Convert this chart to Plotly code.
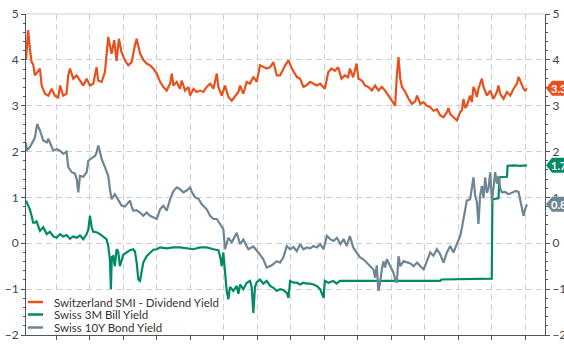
import plotly.graph_objects as go

# ---------------- data ----------------
smi_dates = ["2009-02-08","2009-03-03","2009-03-22","2009-04-10","2009-04-27","2009-05-16","2009-06-22","2009-07-10","2009-07-29","2009-09-03","2009-10-09","2009-11-14","2009-12-20",
"2010-01-25","2010-02-14","2010-03-20","2010-04-26","2010-05-14","2010-06-02","2010-07-08","2010-08-14","2010-09-19","2010-10-25","2010-12-01",
"2011-01-06","2011-02-11","2011-03-19","2011-04-06","2011-05-13","2011-06-18","2011-07-24","2011-08-30","2011-09-27","2011-10-23","2011-11-17","2011-12-16",
"2012-01-22","2012-02-27","2012-04-04","2012-05-10","2012-05-29","2012-07-04","2012-08-09","2012-09-15","2012-10-21","2012-11-26",
"2013-01-03","2013-02-08","2013-03-15","2013-04-21","2013-05-28","2013-06-16","2013-07-03","2013-08-08","2013-09-13","2013-10-02","2013-11-07","2013-12-13",
"2014-01-01","2014-02-06","2014-03-14","2014-04-19","2014-05-26","2014-07-01","2014-08-07","2014-09-12","2014-10-19","2014-11-05","2014-12-12",
"2015-01-17","2015-02-22","2015-03-31","2015-05-06","2015-06-11","2015-06-30","2015-08-04","2015-09-10","2015-10-16","2015-11-21","2015-12-28",
"2016-02-02","2016-03-09","2016-04-15","2016-05-22","2016-06-27","2016-08-03","2016-09-08","2016-11-02","2016-12-08",
"2017-01-14","2017-03-08","2017-04-14","2017-05-20","2017-06-26","2017-08-01","2017-09-06","2017-10-13","2017-11-18",
"2018-01-08","2018-02-14","2018-03-22","2018-04-27","2018-06-02","2018-07-09","2018-08-13","2018-09-19","2018-10-08","2018-11-13","2018-12-20",
"2019-01-09","2019-02-15","2019-03-23","2019-04-28","2019-06-04","2019-07-10","2019-08-15","2019-09-21","2019-10-27","2019-12-02",
"2020-01-26","2020-02-13","2020-03-03","2020-03-21","2020-04-09","2020-04-27","2020-06-03","2020-07-09","2020-08-15","2020-09-20","2020-10-09","2020-11-14","2020-12-20",
"2021-01-24","2021-03-01","2021-04-06","2021-05-13","2021-06-18","2021-07-24","2021-08-30","2021-09-16","2021-10-05","2021-11-10","2021-12-17",
"2022-01-22","2022-02-10","2022-02-27","2022-03-17","2022-04-04","2022-05-10","2022-05-29","2022-06-16","2022-07-04","2022-07-23","2022-08-09","2022-09-15","2022-10-03","2022-11-09","2022-12-15",
"2023-01-20","2023-02-26","2023-03-15","2023-04-03","2023-05-09","2023-06-16","2023-07-21","2023-08-27","2023-10-02","2023-10-20","2023-11-07","2023-12-13",
"2024-01-01","2024-01-19"]
smi_vals = [4.0,4.65,4.25,3.95,3.9,3.66,3.76,3.81,3.44,3.26,3.22,3.37,3.22,
3.18,3.44,3.22,3.26,3.66,3.81,3.59,3.66,3.55,3.44,3.59,
3.44,3.48,3.84,3.55,3.52,3.73,4.5,4.13,4.43,3.98,4.46,4.17,
3.99,3.88,3.95,4.32,4.46,4.14,4.0,3.92,3.88,3.81,
3.7,3.52,3.41,3.33,3.48,3.70,3.44,3.52,3.37,3.55,3.33,3.41,
3.22,3.37,3.30,3.33,3.30,3.41,3.48,3.37,3.70,3.41,3.22,
3.44,3.19,3.11,3.22,3.30,3.44,3.26,3.52,3.48,3.63,3.52,
3.88,3.84,3.81,3.84,3.95,3.66,3.66,3.88,3.99,
3.81,3.63,3.59,3.41,3.45,3.52,3.48,3.44,3.48,
3.37,3.73,3.81,3.76,3.84,3.59,3.66,3.62,3.81,3.62,3.92,
3.59,3.55,3.44,3.41,3.33,3.44,3.33,3.41,3.33,3.22,
3.08,3.0,3.66,4.06,3.59,3.41,3.30,3.15,3.04,3.10,3.22,3.04,3.08,
3.0,2.97,2.89,2.92,2.79,2.75,2.86,2.95,2.82,2.75,2.68,
2.86,2.90,3.15,2.95,3.0,3.22,3.08,3.41,3.33,3.19,3.37,3.59,3.41,3.22,3.33,
3.15,3.30,3.44,3.26,3.15,3.30,3.22,3.37,3.48,3.63,3.55,3.37,
3.33,3.38]

bill_dates = ["2009-02-08","2009-03-03","2009-03-22","2009-04-10","2009-04-27","2009-05-16","2009-06-03","2009-07-10","2009-08-15","2009-09-22","2009-10-27","2009-12-02",
"2010-01-08","2010-02-14","2010-03-20","2010-04-26","2010-06-02","2010-07-08","2010-08-14","2010-09-19","2010-10-25","2010-12-01","2010-12-19",
"2011-01-06","2011-01-25","2011-02-11","2011-03-19","2011-04-24","2011-05-30","2011-07-05","2011-07-24","2011-08-11","2011-08-22","2011-09-01","2011-09-17","2011-10-04","2011-10-23","2011-11-10","2011-11-28",
"2012-01-04","2012-02-10","2012-03-17","2012-04-22","2012-05-10","2012-05-29","2012-06-16","2012-07-04","2012-07-23","2012-08-09","2012-09-15","2012-10-21","2012-11-26",
"2013-01-03","2013-02-08","2013-04-21","2013-07-03","2013-09-13","2013-11-24",
"2014-02-06","2014-04-19","2014-07-01","2014-09-12","2014-11-05","2014-11-23","2014-12-12","2014-12-29",
"2015-01-17","2015-02-04","2015-02-22","2015-03-12","2015-04-17","2015-05-24","2015-06-11","2015-06-30","2015-08-04","2015-09-10","2015-10-16","2015-11-03","2015-11-21","2015-12-09","2015-12-28",
"2016-02-02","2016-03-09","2016-04-15","2016-05-22","2016-06-27","2016-08-03","2016-09-08","2016-10-14","2016-11-20","2016-12-08","2016-12-26",
"2017-02-01","2017-03-08","2017-04-14","2017-05-20","2017-06-26","2017-08-01","2017-09-06","2017-10-13","2017-11-18","2017-12-07","2017-12-25",
"2018-01-08","2018-02-14","2018-04-10","2018-05-16","2018-06-22","2018-09-04",
"2019-01-01","2020-01-01","2021-01-01","2021-06-18","2021-07-01","2022-01-01","2022-06-01","2023-01-01",
"2023-01-08","2023-02-26","2023-03-15","2023-03-26","2023-05-09","2023-06-16","2023-06-22","2023-08-27","2023-11-07","2024-01-19"]
bill_vals = [0.93,0.82,0.74,0.60,0.45,0.45,0.48,0.27,0.35,0.20,0.25,0.15,
0.12,0.20,0.15,0.18,0.10,0.15,0.12,0.17,0.09,0.20,0.30,
0.60,0.35,0.25,0.24,0.20,0.15,0.09,-0.06,-0.35,-1.0,-0.30,-0.28,-0.50,-0.13,-0.18,-0.50,
-0.25,-0.20,-0.15,-0.13,-0.18,-0.42,-0.79,-0.82,-0.64,-0.42,-0.28,-0.20,-0.14,
-0.13,-0.09,-0.11,-0.09,-0.09,-0.11,
-0.13,-0.09,-0.09,-0.13,-0.15,-0.28,-0.50,-0.20,
-0.60,-1.04,-1.22,-0.95,-1.04,-0.93,-1.10,-0.90,-1.0,-0.86,-0.82,-0.95,-1.52,-0.95,-0.85,
-0.79,-0.88,-0.82,-0.93,-0.97,-1.04,-1.0,-1.02,-1.08,-1.19,-0.82,
-0.86,-0.86,-0.90,-0.86,-0.88,-0.88,-0.90,-0.93,-1.0,-1.11,-1.19,
-0.82,-0.86,-0.82,-0.88,-0.82,-0.82,
-0.82,-0.83,-0.82,-0.82,-0.79,-0.78,-0.77,-0.77,
0.96,0.98,0.98,1.44,1.44,1.45,1.69,1.70,1.69,1.70]

bond_dates = ["2009-02-08","2009-02-15","2009-03-22","2009-04-27","2009-05-16","2009-06-09","2009-07-10","2009-08-15","2009-09-22","2009-10-09","2009-10-27","2009-12-02",
"2010-01-08","2010-02-14","2010-03-20","2010-04-26","2010-05-14","2010-06-20","2010-07-26","2010-08-14","2010-09-01","2010-09-19","2010-10-25","2010-12-01","2010-12-19",
"2011-01-25","2011-03-03","2011-03-19","2011-04-06","2011-04-24","2011-05-13","2011-06-18","2011-07-24","2011-08-11","2011-08-30","2011-10-04","2011-11-10","2011-12-16",
"2012-01-22","2012-02-27","2012-03-17","2012-04-04","2012-04-22","2012-05-29","2012-07-04","2012-08-09","2012-09-15","2012-10-21","2012-11-26",
"2013-01-03","2013-02-08","2013-03-15","2013-04-21","2013-05-28","2013-07-03","2013-08-08","2013-09-13","2013-10-20","2013-11-24",
"2014-01-01","2014-01-19","2014-02-25","2014-04-02","2014-05-08","2014-07-01","2014-08-07","2014-09-12","2014-10-19","2014-11-23","2014-12-29",
"2015-01-17","2015-02-04","2015-02-22","2015-03-31","2015-05-24","2015-06-30","2015-08-04","2015-09-28","2015-11-21",
"2016-01-14","2016-03-09","2016-04-15","2016-06-09","2016-08-03","2016-09-08","2016-10-14","2016-11-20","2016-12-26",
"2017-02-01","2017-03-08","2017-04-14","2017-05-20","2017-06-26","2017-08-01","2017-09-06","2017-10-13","2017-11-18","2017-12-25",
"2018-01-30","2018-03-08","2018-04-14","2018-05-20","2018-06-27","2018-08-01","2018-09-04","2018-10-08","2018-11-13","2018-12-20",
"2019-01-27","2019-03-04","2019-04-10","2019-05-16","2019-06-22","2019-07-10","2019-07-28","2019-08-15","2019-09-03","2019-09-21","2019-10-09","2019-10-27","2019-11-15","2019-12-21",
"2020-01-26","2020-02-13","2020-03-03","2020-03-21","2020-04-09","2020-05-15","2020-06-20","2020-07-27","2020-09-01","2020-10-09","2020-11-14","2020-12-20",
"2021-01-24","2021-03-01","2021-04-06","2021-05-13","2021-06-18","2021-07-24","2021-08-30","2021-10-05","2021-11-10","2021-12-17",
"2022-01-22","2022-02-10","2022-02-27","2022-04-04","2022-05-10","2022-05-29","2022-06-16","2022-07-04","2022-07-23","2022-08-09","2022-08-27","2022-09-15","2022-10-03","2022-10-21","2022-11-09","2022-11-27","2022-12-15",
"2023-01-03","2023-01-20","2023-02-07","2023-02-26","2023-03-15","2023-04-03","2023-04-21","2023-05-27","2023-07-02","2023-08-09","2023-09-14","2023-10-20","2023-11-07","2023-11-25","2023-12-13",
"2024-01-01","2024-01-19"]
bond_vals = [2.20,2.02,2.10,2.24,2.30,2.60,2.46,2.24,2.20,2.28,2.20,2.02,
2.05,2.02,1.95,2.00,1.66,1.55,1.52,1.40,1.11,1.47,1.45,1.55,1.80,
1.85,1.91,1.98,2.13,2.00,1.84,1.66,1.47,1.18,0.96,1.07,0.93,0.82,
0.80,0.89,0.93,0.80,0.71,0.72,0.67,0.60,0.67,0.60,0.56,
0.53,0.74,0.82,0.71,0.96,1.14,1.22,1.18,1.11,1.15,
1.22,1.12,1.00,0.97,0.85,0.74,0.60,0.53,0.53,0.42,0.31,
-0.13,0.00,0.12,0.02,0.23,-0.02,0.08,-0.13,-0.07,
-0.20,-0.35,-0.53,-0.48,-0.39,-0.42,-0.30,-0.06,-0.13,
-0.08,-0.17,-0.02,-0.13,-0.09,-0.11,-0.06,-0.09,-0.02,-0.13,
0.16,0.09,0.05,0.12,-0.02,0.09,-0.06,0.16,-0.09,-0.20,
-0.31,-0.35,-0.42,-0.50,-0.57,-0.75,-0.48,-1.04,-0.85,-0.57,-0.39,-0.53,-0.35,-0.50,
-0.64,-0.78,-0.86,-0.28,-0.50,-0.39,-0.42,-0.44,-0.50,-0.42,-0.50,-0.57,
-0.39,-0.20,-0.27,-0.13,-0.24,-0.42,-0.20,-0.06,-0.20,-0.02,
0.16,0.34,0.53,0.93,0.96,1.25,1.44,1.04,0.90,0.42,1.04,1.25,0.98,1.44,1.10,1.20,1.55,
0.89,1.25,1.55,1.30,1.47,1.20,1.11,1.12,1.07,1.10,1.14,1.12,0.96,0.75,0.60,
0.75,0.85]

series_names = ["Switzerland SMI - Dividend Yield", "Swiss 3M Bill Yield", "Swiss 10Y Bond Yield"]
series_colors = ["#E8501C", "#008A66", "#6E8694"]

year_bounds = [f"{y}-01-01" for y in range(2010, 2025)]
label_years = list(range(2009, 2024))
label_dates = [f"{y}-07-02" for y in label_years]
label_text = ["'" + str(y)[2:] for y in label_years]
x_range = ["2009-02-08", "2024-08-03"]
y_range = [-2, 5]

FONT = "Lato, 'Open Sans', sans-serif"
AXC = "#555555"
GRIDC = "#cfcfcf"

fig = go.Figure()
all_series = [(smi_dates, smi_vals), (bill_dates, bill_vals), (bond_dates, bond_vals)]
for (d, v), name, col in zip(all_series, series_names, series_colors):
    fig.add_trace(go.Scatter(x=d, y=v, mode="lines", name=name,
                             line=dict(color=col, width=2.2), showlegend=False))
# invisible trace for right axis
fig.add_trace(go.Scatter(x=[x_range[0]], y=[0], yaxis="y2", mode="markers",
                         marker=dict(opacity=0), showlegend=False, hoverinfo="skip"))

fig.update_layout(
    width=564, height=344,
    margin=dict(l=26, r=19, t=14, b=9),
    paper_bgcolor="white", plot_bgcolor="white",
    font=dict(family=FONT, size=12, color="#444444"),
    showlegend=False,
    xaxis=dict(
        type="date", range=x_range, automargin=False,
        tickmode="array", tickvals=label_dates, ticktext=label_text,
        ticks="outside", ticklen=5, tickcolor="rgba(0,0,0,0)",
        showgrid=False, showline=True, linecolor=AXC, linewidth=1,
        tickfont=dict(size=11, color="#555555"),
        minor=dict(tickmode="array", tickvals=year_bounds, ticks="outside", ticklen=4,
                   tickcolor=AXC, showgrid=True, gridcolor=GRIDC, griddash="6px,4px",
                   gridwidth=1),
        zeroline=False,
    ),
    yaxis=dict(
        range=y_range, dtick=1, tick0=0, ticks="outside", ticklen=4, tickcolor=AXC,
        automargin=False,
        showline=True, linecolor=AXC, linewidth=1,
        showgrid=True, gridcolor=GRIDC, griddash="6px,4px", gridwidth=1,
        zeroline=False, tickfont=dict(size=12, color="#444444"),
        minor=dict(dtick=0.2, ticks="outside", ticklen=2, tickcolor=AXC, showgrid=False),
    ),
    yaxis2=dict(
        range=y_range, dtick=1, tick0=0, overlaying="y", side="right", anchor="x",
        automargin=False,
        ticks="outside", ticklen=4, tickcolor=AXC,
        showline=True, linecolor=AXC, linewidth=1, showgrid=False, zeroline=False,
        tickfont=dict(size=12, color="#444444"),
        minor=dict(dtick=0.2, ticks="outside", ticklen=2, tickcolor=AXC, showgrid=False),
    ),
)

shapes = []
annotations = []
# top border line
shapes.append(dict(type="line", xref="paper", yref="paper", x0=0, x1=1, y0=1, y1=1,
                   line=dict(color=GRIDC, width=1), layer="below"))
# legend box (white) and entries
shapes.append(dict(type="rect", xref="paper", yref="paper", xsizemode="pixel", ysizemode="pixel",
                   xanchor=0, yanchor=0, x0=1, x1=196, y0=1, y1=42,
                   fillcolor="white", line=dict(width=0), layer="above"))
legend_offsets = [33, 20.5, 7.5]
for name, col, off in zip(series_names, series_colors, legend_offsets):
    shapes.append(dict(type="line", xref="paper", yref="paper", xsizemode="pixel", ysizemode="pixel",
                       xanchor=0, yanchor=0, x0=2, x1=17, y0=off, y1=off,
                       line=dict(color=col, width=2.5), layer="above"))
    annotations.append(dict(xref="paper", yref="paper", x=0, y=0, xshift=26, yshift=off,
                            xanchor="left", yanchor="middle", showarrow=False, text=name,
                            font=dict(family=FONT, size=11.5, color="#333333")))
# end-value tags on the right axis
for (d, v), col in zip(all_series, series_colors):
    last = v[-1]
    shapes.append(dict(type="path", xref="paper", yref="y", xsizemode="pixel", ysizemode="pixel",
                       xanchor=1, yanchor=last, path="M1,0 L7,7.5 L60,7.5 L60,-7.5 L7,-7.5 Z",
                       fillcolor=col, line=dict(width=0), layer="above"))
    annotations.append(dict(xref="paper", yref="y", x=1, y=last, xshift=4,
                            xanchor="left", yanchor="middle", showarrow=False,
                            text=f"<b>{last:.2f}</b>",
                            font=dict(family=FONT, size=11, color="white")))
fig.update_layout(shapes=shapes, annotations=annotations)

fig.write_html("out.html")
